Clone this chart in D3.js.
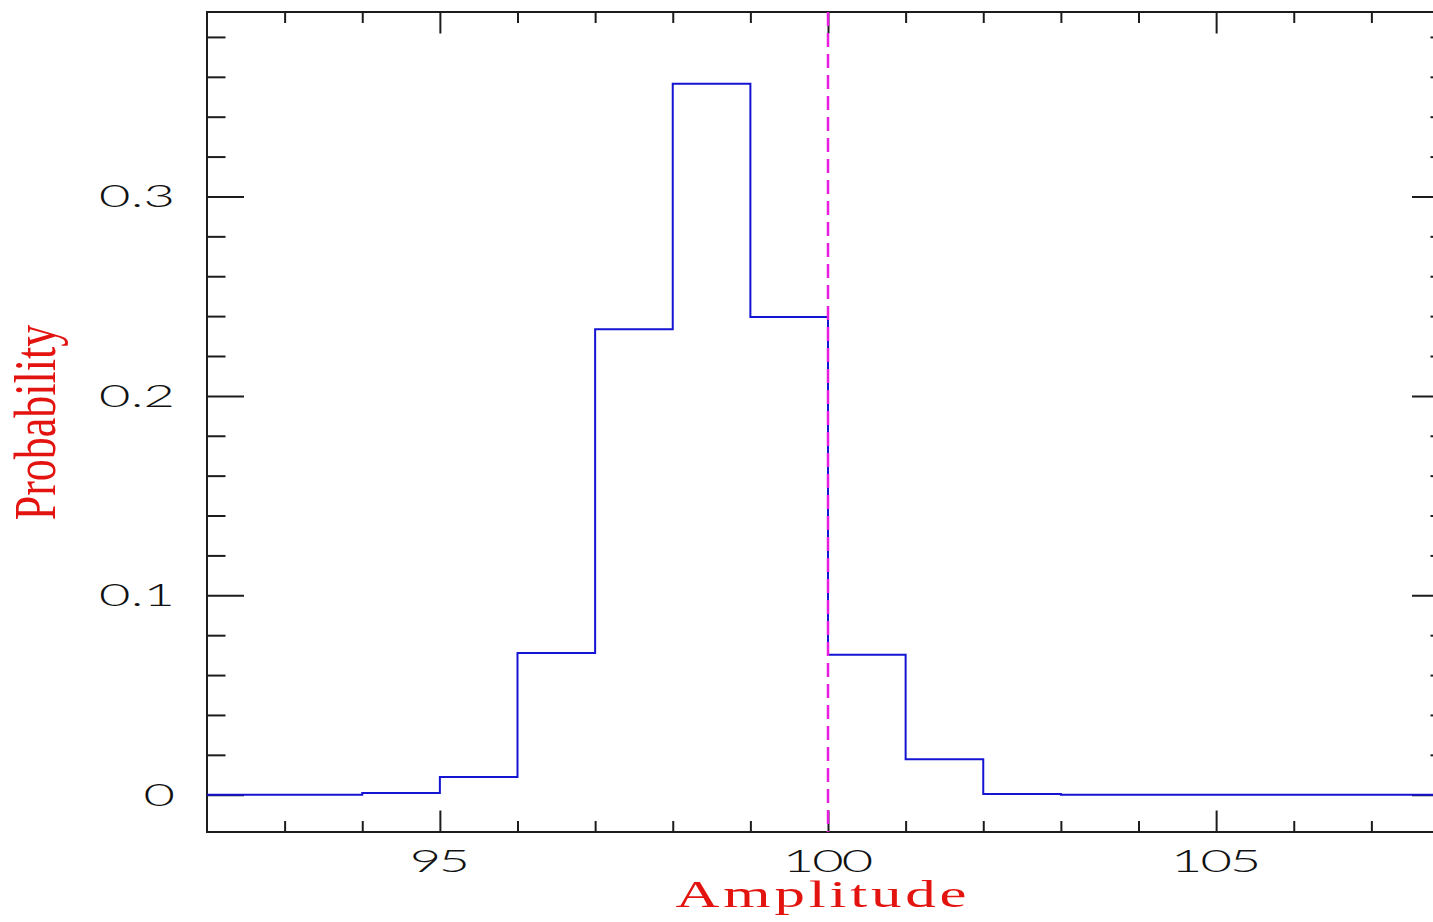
<!DOCTYPE html>
<html>
<head>
<meta charset="utf-8">
<script src="https://cdn.jsdelivr.net/npm/d3@7"></script>
<style>
  html, body { margin: 0; padding: 0; background: #ffffff; }
  svg { display: block; }
</style>
</head>
<body>
<svg id="chart" width="1433" height="922"></svg>
<script>
// Histogram of amplitude estimates: left bin edges (width 1) and their probabilities
const binStarts = [92, 93, 94, 95, 96, 97, 98, 99, 100, 101, 102, 103, 104, 105, 106, 107];
const binProbs  = [0, 0, 0.0008, 0.0089, 0.0711, 0.2334, 0.3565, 0.2396, 0.0702, 0.0178, 0.0004, 0, 0, 0, 0, 0];
const binWidth = 1;

// Reference (true) amplitude marked by the dashed line
const trueAmplitude = [100];

// Axis ticks and labels
const xMajorTicks = [95, 100, 105];
const xMinorTicks = [93, 94, 96, 97, 98, 99, 101, 102, 103, 104, 106, 107];
const xTickLabels = ["95", "100", "105"];
const yMajorTicks = [0, 0.1, 0.2, 0.3];
const yMinorTicks = [0.02, 0.04, 0.06, 0.08, 0.12, 0.14, 0.16, 0.18, 0.22, 0.24, 0.26, 0.28, 0.32, 0.34, 0.36, 0.38];
const yTickLabels = ["0", "0.1", "0.2", "0.3"];

const xTitle = "Amplitude";
const yTitle = "Probability";

const svg = d3.select("#chart");

// Plot frame (the right edge lies just past the visible page)
const frame = { left: 207, right: 1449, top: 12, bottom: 832 };

const x = d3.scaleLinear().domain([92, 108]).range([frame.left, frame.right]);
const y = d3.scaleLinear().domain([-0.0187, 0.3925]).range([frame.bottom, frame.top]);

const inkColor = "#1c1c1c";
const labelColor = "#e3140f";

// Tick marks drawn inward on all four sides
function tickLayer(axis, tx, ty) {
  const g = svg.append("g").attr("transform", `translate(${tx},${ty})`).call(axis);
  g.select(".domain").remove();
  g.selectAll(".tick line").attr("stroke", inkColor).attr("stroke-width", 2);
  g.selectAll(".tick text").remove();
  return g;
}

const xMajLen = 21.5, xMinLen = 11, yMajLen = 37, yMinLen = 18.5;

tickLayer(d3.axisBottom(x).tickValues(xMajorTicks).tickSizeInner(-xMajLen).tickSizeOuter(0), 0, frame.bottom);
tickLayer(d3.axisBottom(x).tickValues(xMinorTicks).tickSizeInner(-xMinLen).tickSizeOuter(0), 0, frame.bottom);
tickLayer(d3.axisTop(x).tickValues(xMajorTicks).tickSizeInner(-xMajLen).tickSizeOuter(0), 0, frame.top);
tickLayer(d3.axisTop(x).tickValues(xMinorTicks).tickSizeInner(-xMinLen).tickSizeOuter(0), 0, frame.top);
tickLayer(d3.axisLeft(y).tickValues(yMajorTicks).tickSizeInner(-yMajLen).tickSizeOuter(0), frame.left, 0);
tickLayer(d3.axisLeft(y).tickValues(yMinorTicks).tickSizeInner(-yMinLen).tickSizeOuter(0), frame.left, 0);
tickLayer(d3.axisRight(y).tickValues(yMajorTicks).tickSizeInner(-yMajLen).tickSizeOuter(0), frame.right, 0);
tickLayer(d3.axisRight(y).tickValues(yMinorTicks).tickSizeInner(-yMinLen).tickSizeOuter(0), frame.right, 0);

// Frame
svg.append("rect")
  .attr("x", frame.left).attr("y", frame.top)
  .attr("width", frame.right - frame.left).attr("height", frame.bottom - frame.top)
  .attr("fill", "none").attr("stroke", inkColor).attr("stroke-width", 2);

// Histogram as a stepped outline
const stepPoints = binStarts.map((s, i) => [s, binProbs[i]]);
stepPoints.push([binStarts[binStarts.length - 1] + binWidth, binProbs[binProbs.length - 1]]);

const stepLine = d3.line()
  .x(d => x(d[0]))
  .y(d => y(d[1]))
  .curve(d3.curveStepAfter);

svg.append("path")
  .datum(stepPoints)
  .attr("d", stepLine)
  .attr("fill", "none")
  .attr("stroke", "#1414d2")
  .attr("stroke-width", 2);

// Dashed marker at the true amplitude
svg.selectAll("line.marker")
  .data(trueAmplitude)
  .enter().append("line")
  .attr("class", "marker")
  .attr("x1", d => x(d)).attr("x2", d => x(d))
  .attr("y1", frame.top).attr("y2", frame.bottom)
  .attr("stroke", "#e81ee0")
  .attr("stroke-width", 2.5)
  .attr("stroke-dasharray", "14,7");

// Tick labels: light, wide lettering
const tickFont = "Lato, 'Liberation Sans', Arial, sans-serif";
const stretch = 1.75;
const charWidth = 17.2;      // unscaled advance per digit
const dotWidth = 9;          // unscaled advance for the decimal point
const labelWidth = s => Array.from(s).reduce((w, c) => w + (c === "." ? dotWidth : charWidth), 0);

function tickText(sel) {
  sel.attr("font-family", tickFont)
    .attr("font-weight", 300)
    .attr("font-size", 31)
    .attr("fill", "#111")
    .each(function () {
      const t = d3.select(this);
      const s = t.text();
      if (s.length > 1) t.attr("textLength", labelWidth(s)).attr("lengthAdjust", "spacing");
    });
}

svg.selectAll("text.xlabel")
  .data(xMajorTicks)
  .enter().append("text")
  .attr("class", "xlabel")
  .attr("transform", d => `translate(${x(d)},872) scale(${stretch},1)`)
  .attr("text-anchor", "middle")
  .text((d, i) => xTickLabels[i])
  .call(tickText);

svg.selectAll("text.ylabel")
  .data(yMajorTicks)
  .enter().append("text")
  .attr("class", "ylabel")
  .attr("transform", d => `translate(175,${y(d) + 11}) scale(${stretch},1)`)
  .attr("text-anchor", "end")
  .text((d, i) => yTickLabels[i])
  .call(tickText);

// Axis titles
const titleFont = "'Liberation Serif', 'Times New Roman', serif";

svg.append("text")
  .attr("transform", "translate(821,907) scale(1.6,1)")
  .attr("text-anchor", "middle")
  .attr("font-family", titleFont)
  .attr("font-size", 38)
  .attr("textLength", 182)
  .attr("lengthAdjust", "spacing")
  .attr("fill", labelColor)
  .text(xTitle);

svg.append("text")
  .attr("transform", "translate(55,422.5) scale(1.36,1) rotate(-90)")
  .attr("text-anchor", "middle")
  .attr("font-family", titleFont)
  .attr("font-size", 44)
  .attr("fill", labelColor)
  .text(yTitle);
</script>
</body>
</html>
